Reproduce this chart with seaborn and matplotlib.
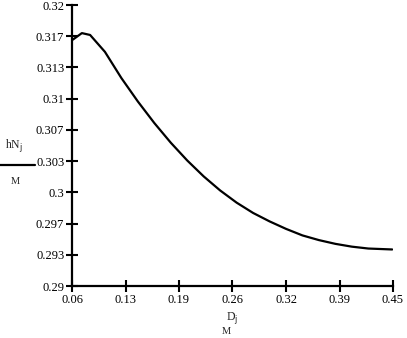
import numpy as np
import matplotlib
matplotlib.use('Agg')
import matplotlib.pyplot as plt
import pandas as pd
import seaborn as sns

# curva (D_j [m], hN_j / m)
D = [0.061, 0.072, 0.082, 0.10, 0.12, 0.14, 0.16, 0.18, 0.20, 0.22, 0.24,
     0.26, 0.28, 0.30, 0.32, 0.34, 0.36, 0.38, 0.40, 0.42, 0.449]
hN = [0.3163, 0.3170, 0.3168, 0.3150, 0.3122, 0.3097, 0.3074, 0.3053, 0.3034,
      0.3017, 0.3002, 0.2989, 0.2978, 0.2969, 0.2961, 0.2954, 0.2949, 0.2945,
      0.2942, 0.2940, 0.2939]

xticklab = ['0.06', '0.13', '0.19', '0.26', '0.32', '0.39', '0.45']
yticklab = ['0.29', '0.293', '0.297', '0.3', '0.303', '0.307', '0.31', '0.313', '0.317', '0.32']

df = pd.DataFrame({'D': D, 'hN': hN})

sns.set_style('ticks')
plt.rcParams['font.family'] = ['Liberation Serif', 'DejaVu Serif']

fig = plt.figure(figsize=(4.07, 3.38), dpi=100)
ax = fig.add_axes([72/407, 1-286/338, (393-72)/407, (286-5)/338])

sns.lineplot(data=df, x='D', y='hN', ax=ax, color='black', lw=1.6)

ax.set_xlim(0.06, 0.45)
ax.set_ylim(0.29, 0.32)
ax.set_xticks(np.linspace(0.06, 0.45, 7))
ax.set_xticklabels(xticklab)
ax.set_yticks(np.linspace(0.29, 0.32, 10))
ax.set_yticklabels(yticklab)
ax.tick_params(direction='inout', length=9, width=1.5, labelsize=9, pad=1, colors='black')
ax.set_xlabel('')
ax.set_ylabel('')
sns.despine(ax=ax)
for s in ['left', 'bottom']:
    ax.spines[s].set_linewidth(1.6)
    ax.spines[s].set_color('black')

# etiquetas estilo Mathcad
fig.text(14/407, 1-146/338, r'hN$_\mathrm{j}$', fontsize=8.5, ha='center', va='center')
fig.add_artist(plt.Line2D([0, 35/407], [1-165/338, 1-165/338], color='black', lw=1.6))
fig.text(15/407, 1-182/338, 'M', fontsize=7.5, ha='center', va='center')
fig.text(232/407, 1-318/338, r'D$_\mathrm{j}$', fontsize=8.5, ha='center', va='center')
fig.text(226/407, 1-331/338, 'M', fontsize=7.5, ha='center', va='center')

plt.savefig('out.png', dpi=100)
